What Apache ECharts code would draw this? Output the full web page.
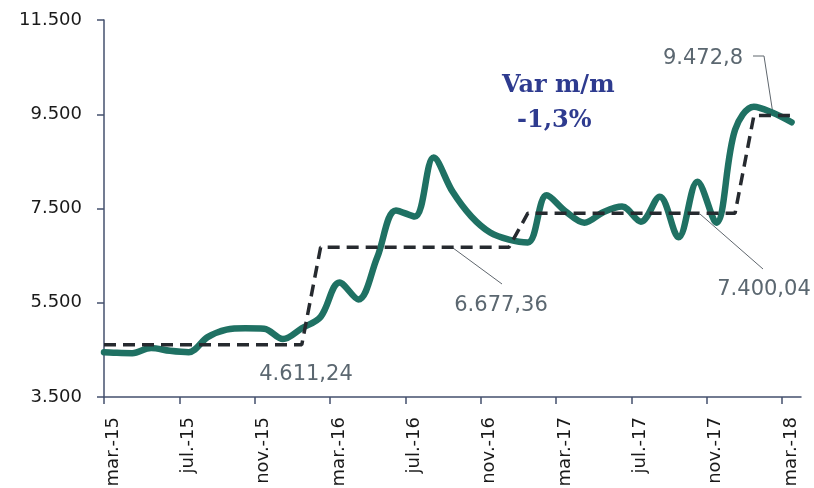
<!DOCTYPE html>
<html>
<head>
<meta charset="utf-8">
<script src="https://cdn.jsdelivr.net/npm/echarts@6/dist/echarts.min.js"></script>
<style>
  html, body { margin: 0; padding: 0; background: #fff; }
  #chart { width: 814px; height: 488px; }
</style>
</head>
<body>
<div id="chart"></div>
<script>
// tick labels, one every 4 months starting mar.-15
var tickLabels = ['mar.-15', 'jul.-15', 'nov.-15', 'mar.-16', 'jul.-16', 'nov.-16',
                  'mar.-17', 'jul.-17', 'nov.-17', 'mar.-18'];
var yTicks = [3500, 5500, 7500, 9500, 11500];

// monthly price, mar.-15 .. mar.-18 (points sit mid-month)
var priceStart = 4450;
var priceValues = [4440, 4430, 4540, 4480, 4450, 4770, 4930, 4960, 4950, 4730,
                   4960, 5200, 5930, 5570, 6460, 7460, 7330, 8580, 7860, 7330,
                   6990, 6840, 6780, 7780, 7440, 7200, 7420, 7540, 7220, 7750,
                   6890, 8070, 7200, 9170, 9660, 9530, 9330];

// period averages (dashed line) and the month each one starts
var avgLevels = [4611.24, 6677.36, 7400.04, 9472.8];
var avgFirstMonth = [0, 11, 22, 34];
var avgLabels = ['4.611,24', '6.677,36', '7.400,04', '9.472,8'];

function fmtThousands(v) {
  return String(v).replace(/\B(?=(\d{3})+(?!\d))/g, '.');
}

var priceData = [[0, priceStart]];
var avgData = [[0, avgLevels[0]]];
priceValues.forEach(function (v, k) {
  priceData.push([k + 0.5, v]);
  var lvl = 0;
  avgFirstMonth.forEach(function (m, j) { if (k >= m) lvl = j; });
  avgData.push([k + 0.5, avgLevels[lvl]]);
});

var tickPos = tickLabels.map(function (s, i) { return i * 4; });
var axisColor = '#44506e';
var noteColor = '#5b6770';
var leaderColor = '#5f666d';

var chart = echarts.init(document.getElementById('chart'));
var option = {
  animation: false,
  grid: { left: 104, right: 13, top: 20, bottom: 91, outerBoundsMode: 'none' },
  xAxis: {
    type: 'value',
    min: 0,
    max: 37,
    splitLine: { show: false },
    axisLine: { show: true, lineStyle: { color: axisColor, width: 1.5 } },
    axisTick: { show: true, length: 7, customValues: tickPos, lineStyle: { color: axisColor, width: 1.5 } },
    axisLabel: {
      customValues: tickPos,
      rotate: 90,
      margin: 20,
      verticalAlign: 'top',
      fontFamily: 'DejaVu Sans',
      fontSize: 18,
      color: '#1a1a1a',
      formatter: function (v) { return tickLabels[Math.round(v / 4)] || ''; }
    }
  },
  yAxis: {
    type: 'value',
    min: 3500,
    max: 11500,
    splitLine: { show: false },
    axisLine: { show: true, lineStyle: { color: axisColor, width: 1.5 } },
    axisTick: { show: true, length: 7, customValues: yTicks, lineStyle: { color: axisColor, width: 1.5 } },
    axisLabel: {
      customValues: yTicks,
      margin: 22,
      fontFamily: 'DejaVu Sans',
      fontSize: 18,
      color: '#1a1a1a',
      formatter: function (v) { return fmtThousands(v); }
    }
  },
  series: [{
    name: 'precio',
    type: 'line',
    data: priceData,
    smooth: 0.35,
    showSymbol: false,
    lineStyle: { color: '#1f7163', width: 6.5, cap: 'round' },
    z: 2
  }, {
    name: 'promedio',
    type: 'line',
    data: avgData,
    showSymbol: false,
    lineStyle: { color: '#262a2f', width: 3.5, type: [12, 7] },
    z: 3
  }],
  graphic: [
    { type: 'text', style: { text: avgLabels[0], x: 306, y: 375, align: 'center', verticalAlign: 'middle', fontFamily: 'DejaVu Sans', fontSize: 21, fill: noteColor } },
    { type: 'text', style: { text: avgLabels[1], x: 501, y: 306, align: 'center', verticalAlign: 'middle', fontFamily: 'DejaVu Sans', fontSize: 21, fill: noteColor } },
    { type: 'text', style: { text: avgLabels[2], x: 764, y: 290, align: 'center', verticalAlign: 'middle', fontFamily: 'DejaVu Sans', fontSize: 21, fill: noteColor } },
    { type: 'text', style: { text: avgLabels[3], x: 703, y: 59, align: 'center', verticalAlign: 'middle', fontFamily: 'DejaVu Sans', fontSize: 21, fill: noteColor } },
    // leader lines
    { type: 'line', shape: { x1: 453, y1: 248, x2: 502, y2: 284 }, style: { stroke: leaderColor, lineWidth: 1 } },
    { type: 'line', shape: { x1: 700, y1: 214, x2: 763, y2: 269 }, style: { stroke: leaderColor, lineWidth: 1 } },
    { type: 'polyline', shape: { points: [[753, 56], [764, 56], [773, 114]] }, style: { stroke: leaderColor, lineWidth: 1, fill: null } },
    // Var m/m note
    { type: 'text', style: { text: 'Var m/m', x: 502, y: 86, align: 'left', verticalAlign: 'middle', fontFamily: 'DejaVu Serif', fontWeight: 'bold', fontSize: 24, fill: '#2e3b8f' } },
    { type: 'text', style: { text: '-1,3%', x: 517, y: 121, align: 'left', verticalAlign: 'middle', fontFamily: 'DejaVu Serif', fontWeight: 'bold', fontSize: 24, fill: '#2e3b8f' } }
  ]
};
chart.setOption(option);
</script>
</body>
</html>
